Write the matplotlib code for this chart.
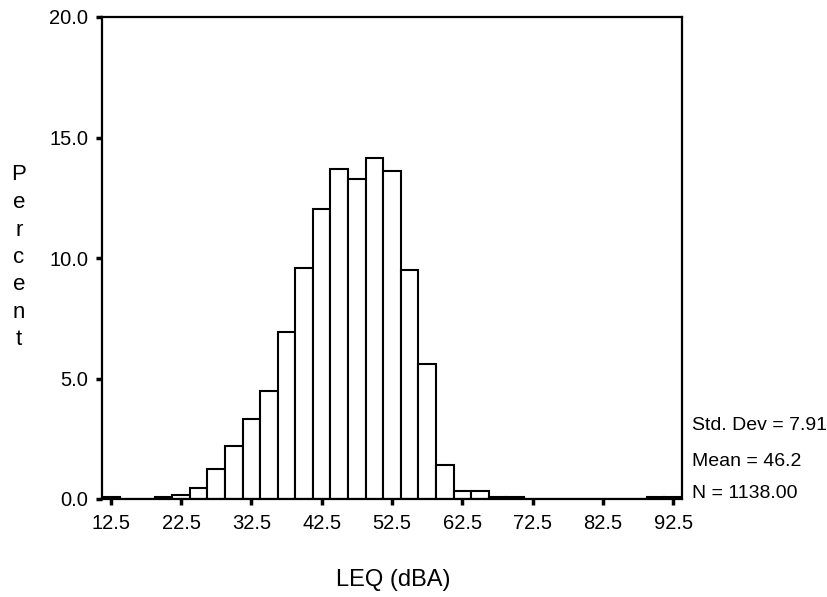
import matplotlib
matplotlib.use("Agg")
import matplotlib.pyplot as plt
import numpy as np

plt.rcParams['font.family'] = ['Liberation Sans', 'DejaVu Sans']

# histogram bins (width 2.5), values in percent
bin_centers = np.arange(12.5, 92.5 + 0.01, 2.5)
percent = [0.09, 0.0, 0.0, 0.09, 0.18, 0.44, 1.23, 2.2, 3.34, 4.48, 6.94,
           9.58, 12.04, 13.71, 13.27, 14.15, 13.62, 9.49, 5.62, 1.41, 0.35,
           0.35, 0.09, 0.09, 0.0, 0.0, 0.0, 0.0, 0.0, 0.0, 0.0, 0.09, 0.09]
bin_width = 2.5

x_ticks = [12.5, 22.5, 32.5, 42.5, 52.5, 62.5, 72.5, 82.5, 92.5]
y_ticks = [0, 5, 10, 15, 20]
stats = ["Std. Dev = 7.91", "Mean = 46.2", "N = 1138.00"]

W, H = 828, 597
fig = plt.figure(figsize=(W / 100, H / 100), dpi=100)
ax = fig.add_axes([102 / W, 1 - 499 / H, 580 / W, 482 / H])

ax.bar(bin_centers, percent, width=bin_width, facecolor='white',
       edgecolor='black', linewidth=1.5)

ax.set_xlim(11.25, 93.75)
ax.set_ylim(0, 20)
ax.set_xticks(x_ticks)
ax.set_xticklabels(['%.1f' % v for v in x_ticks])
ax.set_yticks(y_ticks)
ax.set_yticklabels(['%.1f' % v for v in y_ticks])
ax.tick_params(axis='both', direction='out', length=4, width=2.5,
               labelsize=14.5, colors='black')
ax.tick_params(axis='x', pad=7)
ax.tick_params(axis='y', pad=6)
for s in ax.spines.values():
    s.set_linewidth(1.6)

# stacked y label
for i, ch in enumerate("Percent"):
    fig.text(19 / W, 1 - (175 + i * 27.5) / H, ch, fontsize=16,
             ha='center', va='center')

fig.text(393 / W, 1 - 580 / H, "LEQ (dBA)", fontsize=17,
         ha='center', va='center')

for txt, yy in zip(stats, [425, 461, 493]):
    fig.text(692 / W, 1 - yy / H, txt, fontsize=14, ha='left', va='center')

fig.savefig("out.png", dpi=100)
